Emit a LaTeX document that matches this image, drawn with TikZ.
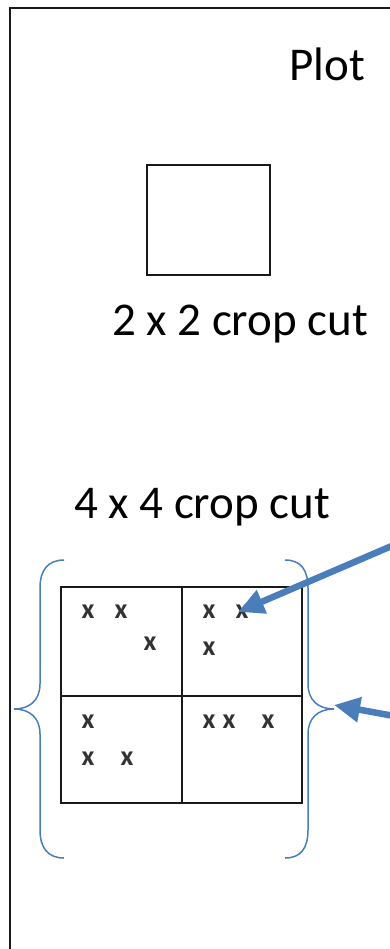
\documentclass[tikz,border=0pt]{standalone}
\usepackage{fontspec}
\setmainfont{Carlito}
\usetikzlibrary{arrows.meta}
\definecolor{bracec}{HTML}{4A7EBB}
\definecolor{framec}{HTML}{1A1A1A}
\tikzset{
  lbl/.style={anchor=base west,inner sep=0pt,font=\fontsize{47}{50}\selectfont},
  mk/.style={inner sep=0pt,font=\bfseries\fontsize{28}{30}\selectfont,text=black!80},
  gridline/.style={line width=2.6pt,draw=framec},
  bracel/.style={line width=1.5pt,draw=bracec},
  pointer/.style={line width=6.5pt,draw=bracec,-{Triangle[length=26pt,width=24pt]}}
}
\begin{document}
\begin{tikzpicture}[x=1pt,y=-1pt]
\useasboundingbox (0,0) rectangle (390,949);
% outer frame
\draw[line width=2.8pt,draw=framec] (392,8) -- (10,8) -- (10,952);
% texts
\node[lbl] (plot) at (289,81) {Plot};
\node[lbl] (cut2) at (112,335) {2 x 2 crop cut};
\node[lbl] (cut4) at (74,518) {4 x 4 crop cut};
% small square
\draw[gridline] (147,165) rectangle (270,275);
% grid
\draw[gridline] (61,587) rectangle (302,803);
\draw[gridline] (182,587) -- (182,803);
\draw[gridline] (61,696) -- (302,696);
% marks
\node[mk] (m1) at (88,612) {x};
\node[mk] (m2) at (121,612) {x};
\node[mk] (m3) at (150,644) {x};
\node[mk] (m4) at (209,612) {x};
\node[mk] (m5) at (242,612) {x};
\node[mk] (m6) at (209,649) {x};
\node[mk] (m7) at (88,722) {x};
\node[mk] (m8) at (88,759) {x};
\node[mk] (m9) at (127,759) {x};
\node[mk] (m10) at (209,722) {x};
\node[mk] (m11) at (229,722) {x};
\node[mk] (m12) at (268,722) {x};
% braces
\draw[bracel] (64,560) .. controls (48,560) and (40,570) .. (40,588) -- (40,684)
  .. controls (40,700) and (30,709) .. (14,709)
  .. controls (30,709) and (40,718) .. (40,734) -- (40,830)
  .. controls (40,848) and (48,858) .. (64,858);
\draw[bracel] (285,560) .. controls (301,560) and (308,570) .. (308,588) -- (308,684)
  .. controls (308,700) and (318,709) .. (334,709)
  .. controls (318,709) and (308,718) .. (308,734) -- (308,830)
  .. controls (308,848) and (301,858) .. (285,858);
% pointers
\coordinate (a1s) at (394,545);
\coordinate (a1e) at (238,612);
\coordinate (a2s) at (394,716);
\coordinate (a2e) at (334,705);
\draw[pointer] (a1s) -- (a1e);
\draw[pointer] (a2s) -- (a2e);
\end{tikzpicture}
\end{document}
